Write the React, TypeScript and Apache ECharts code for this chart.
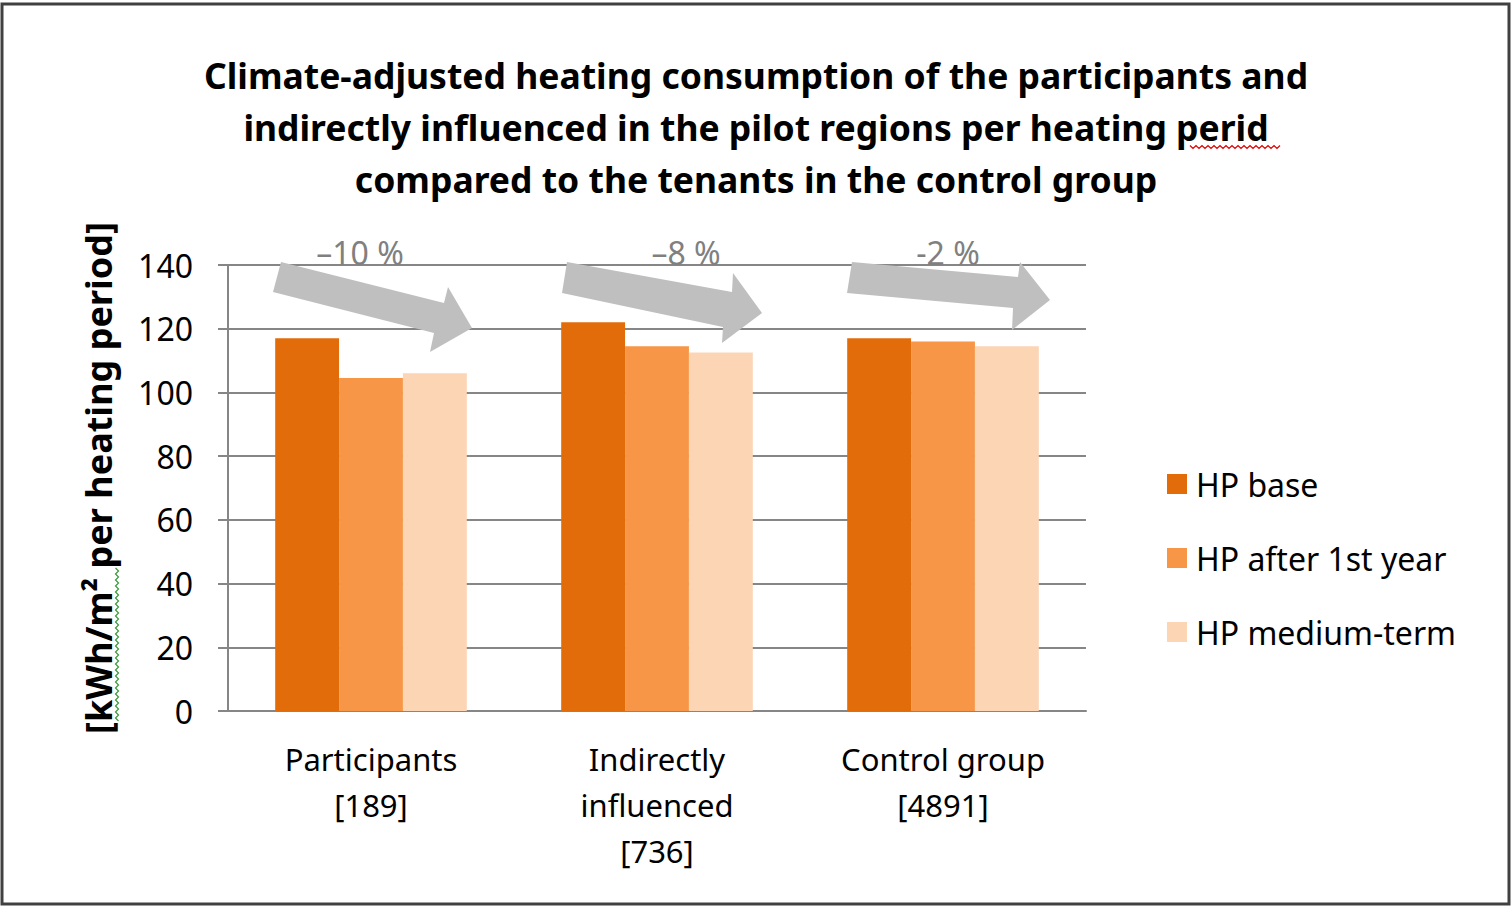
import React, { useEffect, useRef } from "react";
import * as echarts from "echarts";

const categories = ["Participants\n[189]", "Indirectly\ninfluenced\n[736]", "Control group\n[4891]"];
const seriesNames = ["HP base", "HP after 1st year", "HP medium-term"];
const hpBase = [117, 122, 117];
const hpAfter1st = [104.5, 114.5, 116];
const hpMedium = [106, 112.5, 114.5];
const changeLabels = ["\u201310 %", "\u20138 %", "-2 %"];
const yTicks = { min: 0, max: 140, interval: 20 };
const titleText =
  "Climate-adjusted heating consumption of the participants and\nindirectly influenced in the pilot regions per heating perid\ncompared to the tenants in the control group";
const yAxisName = "[kWh/m\u00b2 per heating period]";

const colors = ["#E36C0A", "#F79646", "#FCD5B5"];
const FONT = "Noto Sans";

function zigzagH(x0: number, x1: number, y: number): number[][] {
  const pts: number[][] = [];
  let up = true;
  for (let x = x0; x <= x1; x += 3) {
    pts.push([x, up ? y - 1.5 : y + 1.5]);
    up = !up;
  }
  return pts;
}
function zigzagV(y0: number, y1: number, x: number): number[][] {
  const pts: number[][] = [];
  let l = true;
  for (let y = y0; y <= y1; y += 3) {
    pts.push([l ? x - 1.5 : x + 1.5, y]);
    l = !l;
  }
  return pts;
}

export default function App() {
  const ref = useRef<HTMLDivElement>(null);
  useEffect(() => {
    if (!ref.current) return;
    const chart = echarts.init(ref.current, null, { renderer: "svg" });
    const arrows = [
      [[281, 262], [444, 303], [448, 287], [472, 328], [430, 352], [434, 333], [273, 292]],
      [[567, 262], [732, 292], [733, 273], [762, 313], [722, 343], [723, 327], [562, 293]],
      [[852, 262], [1018, 277], [1020, 262], [1050, 300], [1012, 330], [1013, 308], [847, 293]],
    ];
    const labelX = [360, 686, 948];
    const graphic: any[] = [
      {
        type: "rect",
        shape: { x: 2, y: 4, width: 1507, height: 900 },
        style: { fill: "none", stroke: "#404040", lineWidth: 3 },
        z: 0,
        silent: true,
      },
    ];
    changeLabels.forEach((t, i) => {
      graphic.push({
        type: "text",
        x: labelX[i],
        y: 268,
        z: 5,
        style: {
          text: t,
          fill: "#808080",
          font: `32px "${FONT}"`,
          textAlign: "center",
          textVerticalAlign: "bottom",
        },
      });
    });
    arrows.forEach((pts) => {
      graphic.push({
        type: "polygon",
        z: 10,
        shape: { points: pts },
        style: { fill: "#BFBFBF" },
      });
    });
    graphic.push({
      type: "polyline",
      z: 10,
      shape: { points: zigzagH(1190, 1282, 147) },
      style: { stroke: "#E00000", lineWidth: 1.2, fill: "none" },
    });
    graphic.push({
      type: "polyline",
      z: 10,
      shape: { points: zigzagV(568, 722, 117) },
      style: { stroke: "#3a9a3a", lineWidth: 1.2, fill: "none" },
    });

    const data = [hpBase, hpAfter1st, hpMedium];
    chart.setOption({
      animation: false,
      backgroundColor: "#ffffff",
      textStyle: { fontFamily: FONT },
      title: {
        text: titleText,
        left: "center",
        top: 49,
        padding: 0,
        textStyle: {
          fontFamily: FONT,
          fontSize: 35.5,
          fontWeight: "bold",
          lineHeight: 52,
          color: "#000",
        },
      },
      legend: {
        orient: "vertical",
        left: 1162,
        top: 463,
        itemWidth: 20,
        itemHeight: 20,
        itemGap: 42,
        icon: "rect",
        textStyle: { fontFamily: FONT, fontSize: 32, color: "#000", padding: [0, 0, 0, 4] },
        data: seriesNames,
      },
      grid: { left: 228, right: 426, top: 265, bottom: 197, containLabel: false },
      xAxis: {
        type: "category",
        data: categories,
        axisLine: { lineStyle: { color: "#868686", width: 2 } },
        axisTick: { length: 8, lineStyle: { color: "#868686", width: 2 } },
        axisLabel: {
          fontFamily: FONT,
          fontSize: 31,
          color: "#000",
          lineHeight: 46,
          margin: 25,
          interval: 0,
        },
      },
      yAxis: {
        type: "value",
        min: yTicks.min,
        max: yTicks.max,
        interval: yTicks.interval,
        name: yAxisName,
        nameLocation: "middle",
        nameRotate: 90,
        nameGap: 112,
        nameTextStyle: { fontFamily: FONT, fontSize: 36, fontWeight: "bold", color: "#000", padding: [0, 0, 0, 20] },
        axisLine: { show: true, lineStyle: { color: "#868686", width: 2 } },
        axisTick: { show: true, length: 10, lineStyle: { color: "#868686", width: 2 } },
        splitLine: { lineStyle: { color: "#868686", width: 2 } },
        axisLabel: { fontFamily: FONT, fontSize: 32, color: "#000", margin: 35 },
      },
      series: data.map((d, i) => ({
        name: seriesNames[i],
        type: "bar",
        data: d,
        barGap: "0%",
        barCategoryGap: "33%",
        itemStyle: { color: colors[i] },
      })),
      graphic,
    });
    return () => chart.dispose();
  }, []);
  return (
    <div
      ref={ref}
      style={{ position: "absolute", left: 0, top: 0, width: 1512, height: 908, background: "#fff" }}
    />
  );
}
